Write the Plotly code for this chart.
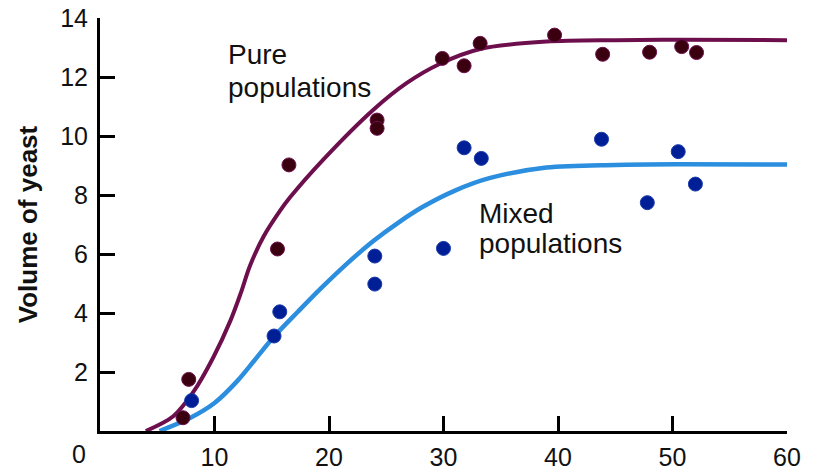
import plotly.graph_objects as go

# Observed yeast volumes (time in hours)
pure_t = [7.25, 7.75, 15.5, 16.5, 24.2, 24.2, 29.9, 31.8, 33.2, 39.7, 43.9, 48.0, 50.8, 52.1]
pure_v = [0.45, 1.75, 6.17, 9.02, 10.54, 10.26, 12.63, 12.38, 13.14, 13.42, 12.77, 12.84, 13.03, 12.83]

mixed_t = [8.0, 15.2, 15.7, 24.0, 24.0, 30.0, 31.8, 33.3, 43.8, 47.8, 50.5, 52.0]
mixed_v = [1.03, 3.22, 4.04, 4.98, 5.93, 6.19, 9.6, 9.24, 9.89, 7.74, 9.47, 8.37]

# Fitted growth curves, sampled along time
pure_fit_t = [4.0, 6.4, 8.2, 9.9, 11.4, 12.3, 13.1, 14.3, 15.7, 16.6, 19.5, 23.9,
              26.8, 29.7, 33.2, 39.0, 45.0, 50.6, 60.0]
pure_fit_v = [0.0, 0.5, 1.35, 2.5, 3.75, 4.68, 5.6, 6.6, 7.45, 7.92, 9.2, 10.9,
              11.8, 12.45, 12.95, 13.2, 13.25, 13.26, 13.25]

mixed_fit_t = [5.2, 7.9, 10.0, 12.0, 13.5, 15.2, 17.3, 19.2, 21.5, 23.9, 26.0, 28.2,
               31.0, 34.0, 39.0, 45.0, 50.6, 60.0]
mixed_fit_v = [0.0, 0.45, 0.95, 1.7, 2.4, 3.2, 4.05, 4.8, 5.65, 6.45, 7.05, 7.6,
               8.15, 8.57, 8.93, 9.02, 9.04, 9.03]

x_ticks = [10, 20, 30, 40, 50, 60]
y_ticks = [2, 4, 6, 8, 10, 12, 14]

PURE_LINE = "#6d0f4d"
PURE_DOT = "#3b0010"
MIXED_LINE = "#2b8ede"
MIXED_DOT = "#001e96"
FONT = "Liberation Sans, Arial, sans-serif"

fig = go.Figure()

fig.add_trace(go.Scatter(x=pure_fit_t, y=pure_fit_v, mode="lines",
                         line=dict(color=PURE_LINE, width=4, shape="spline", smoothing=0.9),
                         hoverinfo="skip", cliponaxis=False))
fig.add_trace(go.Scatter(x=mixed_fit_t, y=mixed_fit_v, mode="lines",
                         line=dict(color=MIXED_LINE, width=4.5, shape="spline", smoothing=0.9),
                         hoverinfo="skip", cliponaxis=False))
fig.add_trace(go.Scatter(x=pure_t, y=pure_v, mode="markers",
                         marker=dict(color=PURE_DOT, size=14,
                                     line=dict(color=PURE_LINE, width=1)),
                         cliponaxis=False))
fig.add_trace(go.Scatter(x=mixed_t, y=mixed_v, mode="markers",
                         marker=dict(color=MIXED_DOT, size=14,
                                     line=dict(color="#1a3aa8", width=1)),
                         cliponaxis=False))

labels = [
    ("Pure", 11.03, 12.75),
    ("populations", 11.03, 11.66),
    ("Mixed", 32.9, 7.39),
    ("populations", 32.9, 6.37),
]
for text, lx, ly in labels:
    fig.add_annotation(x=lx, y=ly, text=text, showarrow=False,
                       xanchor="left", yanchor="middle",
                       font=dict(family=FONT, size=28, color="#111111"))

# The origin label sits left of the axis corner
fig.add_annotation(x=0, y=0, text="0", showarrow=False, xanchor="center",
                   yanchor="top", xshift=-21, yshift=-7,
                   font=dict(family=FONT, size=25, color="#111111"))

axis_common = dict(showline=True, linecolor="black", linewidth=3,
                   tickmode="array", ticks="inside", ticklen=15, tickwidth=3,
                   tickcolor="black", showgrid=False, zeroline=False,
                   automargin=False, layer="above traces",
                   tickfont=dict(family=FONT, size=25, color="#111111"))

fig.update_xaxes(range=[0, 60], tickvals=x_ticks, ticktext=[str(v) for v in x_ticks],
                 ticklabelstandoff=2, **axis_common)
fig.update_yaxes(range=[0, 14], tickvals=y_ticks, ticktext=[str(v) for v in y_ticks],
                 ticklabelstandoff=4,
                 title=dict(text="<b>Volume of yeast</b>",
                            font=dict(family=FONT, size=26, color="#111111"),
                            standoff=16),
                 **axis_common)

fig.update_layout(width=816, height=470, showlegend=False,
                  margin=dict(l=100, r=29, t=18, b=39),
                  plot_bgcolor="white", paper_bgcolor="white")

fig.write_html("out.html")
